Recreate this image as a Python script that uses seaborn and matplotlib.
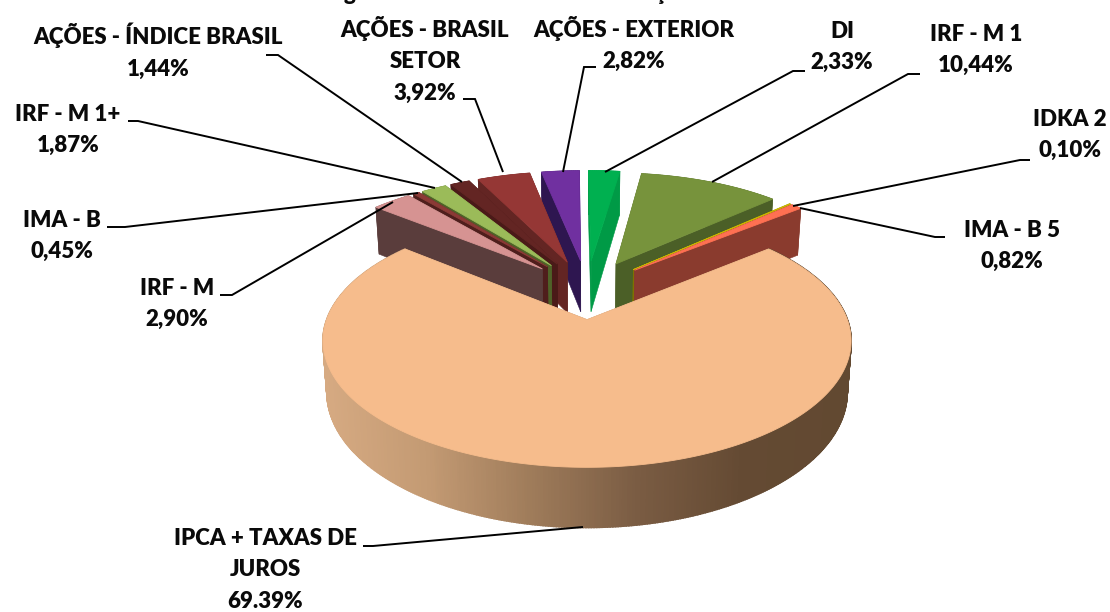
import numpy as np
import seaborn as sns
import matplotlib
matplotlib.use('Agg')
import matplotlib.pyplot as plt
from matplotlib.patches import Polygon

# data, in pie order (clockwise)
categorias = ['IPCA + TAXAS DE\nJUROS', 'IRF - M', 'IMA - B', 'IRF - M 1+',
              'AÇÕES - ÍNDICE BRASIL', 'AÇÕES - BRASIL\nSETOR', 'AÇÕES - EXTERIOR',
              'DI', 'IRF - M 1', 'IDKA 2', 'IMA - B 5']
valores = [69.39, 2.90, 0.45, 1.87, 1.44, 3.92, 2.82, 2.33, 10.44, 0.10, 0.82]
rotulos = ['69.39%', '2,90%', '0,45%', '1,87%', '1,44%', '3,92%', '2,82%',
           '2,33%', '10,44%', '0,10%', '0,82%']

# colours
cor_topo = ['#F6BC8C', '#D69392', '#8B3A36', '#9BBB59', '#632523', '#953735',
            '#7030A0', '#00B050', '#77933C', '#C9B400', '#FF7052']
cor_lado = ['#9E7B5A', '#5A3D3C', '#4F1E1C', '#4F6228', '#4A1A18', '#632523',
            '#2E1650', '#009A46', '#4B5F27', '#7F7300', '#8A3B2E']
gradiente = sns.blend_palette(['#D6AA82', '#C39A73', '#9E7B5A', '#7A5C43', '#644A33', '#624931'],
                              as_cmap=True)

# label layout, pixels of the 1110x612 picture
pos_texto = [(265, 570), (177, 304), (62, 236), (68, 130), (158, 51), (425, 60),
             (634, 44), (842, 47), (976, 50), (1070, 135), (1012, 246)]
linhas = [[(363, 546), (373, 546), (583, 527)],
          [(220, 295), (232, 295), (393, 202)],
          [(107, 227), (125, 227), (418, 193)],
          [(128, 121), (138, 121), (435, 188)],
          [(266, 55), (278, 55), (462, 182)],
          [(463, 99), (475, 99), (503, 172)],
          [(596, 67), (584, 67), (563, 172)],
          [(805, 71), (793, 71), (605, 172)],
          [(920, 74), (908, 74), (712, 182)],
          [(1030, 160), (1020, 160), (793, 206)],
          [(945, 237), (935, 237), (800, 208)]]

# pie geometry
CX, CY = 587, 289
RX, RY = 249.5, 113
K = 0.16        # perspective
EXPLODE = 0.26
DEPTH = 50
INICIO = 50.5   # degrees clockwise from 12 o'clock


def proj(X, Y, z=0):
    d = 1 + K * np.asarray(Y)
    x = RX * np.asarray(X) / d
    y = CY - RY * np.asarray(Y) / d + z * DEPTH / d
    if z:
        x = x * 0.985
    return np.column_stack([CX + x, y])


def fatia(ax, a0, a1, topo, lado, degrade=False):
    meio = np.radians((a0 + a1) / 2)
    ex, ey = EXPLODE * np.sin(meio), EXPLODE * np.cos(meio)
    t = np.radians(np.linspace(a0, a1, max(int(a1 - a0) * 2, 3)))
    X, Y = ex + np.sin(t), ey + np.cos(t)
    z = 0.96 if degrade else 1.06   # front rim looks a bit shallower
    arco_t, arco_b = proj(X, Y), proj(X, Y, z)
    tip_t, tip_b = proj([ex], [ey]), proj([ex], [ey], z)
    # radial walls
    for i in (0, -1):
        q = [tip_t[0], arco_t[i], arco_b[i], tip_b[0]]
        ax.add_patch(Polygon(q, fc=lado, ec=lado, lw=0.4))
    # outer wall
    for i in range(len(t) - 1):
        q = [arco_t[i], arco_t[i + 1], arco_b[i + 1], arco_b[i]]
        c = lado
        if degrade:
            c = gradiente((arco_t[i][0] - 322) / 528)
        ax.add_patch(Polygon(q, fc=c, ec=c, lw=1.2 if degrade else 0.4))
    ax.add_patch(Polygon(np.vstack([tip_t, arco_t]), fc=topo, ec=topo, lw=0.6))


sns.set_theme(style='white')
plt.rcParams['font.family'] = ['Lato', 'DejaVu Sans']

fig = plt.figure(figsize=(11.1, 6.12), dpi=100)
ax = fig.add_axes([0, 0, 1, 1])
ax.set_xlim(0, 1110)
ax.set_ylim(612, 0)
ax.axis('off')

angulos = np.array(valores) / sum(valores) * 360
inicios = INICIO + np.concatenate([[0], np.cumsum(angulos)[:-1]])
fins = inicios + angulos

# back to front
ordem = [6, 5, 4, 3, 2, 1, 7, 8, 9, 10, 0]
for i in ordem:
    fatia(ax, inicios[i], fins[i], cor_topo[i], cor_lado[i], degrade=(i == 0))

for lin in linhas:
    xs, ys = zip(*lin)
    ax.plot(xs, ys, color='black', lw=1.4, solid_capstyle='butt', solid_joinstyle='miter')

for nome, rot, (x, y) in zip(categorias, rotulos, pos_texto):
    ax.text(x, y, nome + '\n' + rot, ha='center', va='center', fontsize=16,
            fontweight='heavy', color='#0a0a0a', linespacing=1.62)

# what is left of the title, cut by the top of the picture (as in the reference)
ax.text(350, -6, 'g', ha='center', va='center', fontsize=16, fontweight='heavy', color='#0a0a0a')
ax.text(660, -6, 'ç', ha='center', va='center', fontsize=16, fontweight='heavy', color='#0a0a0a')

fig.savefig('out.png', dpi=100)
